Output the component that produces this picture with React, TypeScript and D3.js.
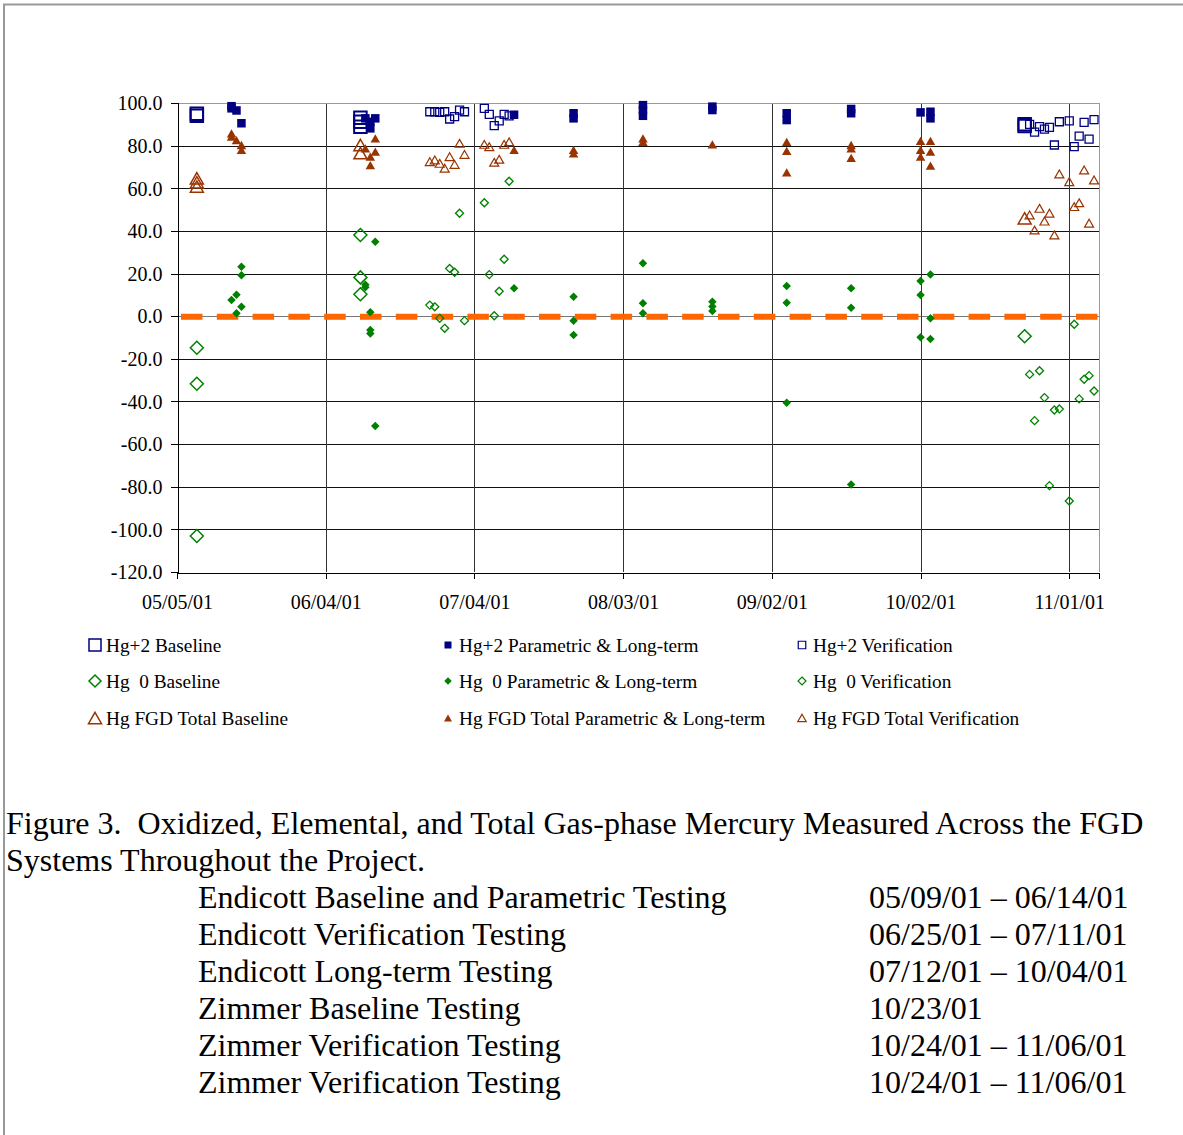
import React, { useEffect, useRef } from 'react';
import * as d3 from 'd3';

// [date, removal %] pairs
const hg2Baseline: [string, number][] = [
  ['2001-05-09', 95], ['2001-05-09', 94],
  ['2001-06-11', 93.1], ['2001-06-11', 91.2], ['2001-06-11', 88.9],
  ['2001-10-23', 90], ['2001-10-23', 89.2],
];
const hg2Parametric: [string, number][] = [
  ['2001-05-16', 98.5], ['2001-05-16', 97.5], ['2001-05-17', 96.5], ['2001-05-18', 90.5],
  ['2001-06-12', 92.8], ['2001-06-13', 91.2], ['2001-06-13', 88.1], ['2001-06-14', 92.8],
  ['2001-07-12', 94.5], ['2001-07-24', 95.2], ['2001-07-24', 92.8],
  ['2001-08-07', 99], ['2001-08-07', 96.7], ['2001-08-07', 94],
  ['2001-08-21', 98.3], ['2001-08-21', 96.7],
  ['2001-09-05', 95.2], ['2001-09-05', 92], ['2001-09-18', 97.2], ['2001-09-18', 95.2],
  ['2001-10-02', 95.6], ['2001-10-04', 95.9], ['2001-10-04', 92.8],
];
const hg2Verification: [string, number][] = [
  ['2001-06-25', 95.9], ['2001-06-26', 95.9], ['2001-06-27', 95.6], ['2001-06-28', 95.9],
  ['2001-06-29', 92.5], ['2001-06-30', 93.6], ['2001-07-01', 96.7], ['2001-07-02', 95.9],
  ['2001-07-06', 97.5], ['2001-07-07', 94.7], ['2001-07-08', 89.4], ['2001-07-09', 91.6],
  ['2001-07-10', 94.7], ['2001-07-11', 94],
  ['2001-10-24', 90], ['2001-10-25', 86.3], ['2001-10-26', 88.9], ['2001-10-27', 87.7],
  ['2001-10-28', 88.6], ['2001-10-29', 80.3], ['2001-10-30', 91.2], ['2001-11-01', 91.6],
  ['2001-11-02', 79.5], ['2001-11-03', 84.5], ['2001-11-04', 90.9], ['2001-11-05', 83.1],
  ['2001-11-06', 92.2],
];
const hg0Baseline: [string, number][] = [
  ['2001-05-09', -14.8], ['2001-05-09', -31.7], ['2001-05-09', -103.1],
  ['2001-06-11', 38.1], ['2001-06-11', 18.2], ['2001-06-11', 10.3],
  ['2001-10-23', -9.4],
];
const hg0Parametric: [string, number][] = [
  ['2001-05-16', 7.6], ['2001-05-17', 10], ['2001-05-17', 1.4],
  ['2001-05-18', 23.2], ['2001-05-18', 19.2], ['2001-05-18', 4.4],
  ['2001-06-12', 14.8], ['2001-06-12', 13.6], ['2001-06-13', 1.8], ['2001-06-13', -6.5],
  ['2001-06-13', -8.1], ['2001-06-14', 34.9], ['2001-06-14', -51.5],
  ['2001-07-12', 13.1], ['2001-07-24', 9.1], ['2001-07-24', -2.1], ['2001-07-24', -8.8],
  ['2001-08-07', 24.8], ['2001-08-07', 6.1], ['2001-08-07', 1.4],
  ['2001-08-21', 6.8], ['2001-08-21', 4.5], ['2001-08-21', 2.4],
  ['2001-09-05', 14.2], ['2001-09-05', 6.3], ['2001-09-05', -40.6],
  ['2001-09-18', 13.1], ['2001-09-18', 4], ['2001-09-18', -78.9],
  ['2001-10-02', 16.5], ['2001-10-02', 9.9], ['2001-10-02', -9.9],
  ['2001-10-04', 19.6], ['2001-10-04', -1], ['2001-10-04', -10.7],
];
const hg0Verification: [string, number][] = [
  ['2001-06-25', 5.2], ['2001-06-26', 4.4], ['2001-06-27', -1], ['2001-06-28', -5.7],
  ['2001-06-29', 22.4], ['2001-06-30', 20.6], ['2001-07-01', 48.3], ['2001-07-02', -2.1],
  ['2001-07-06', 53.2], ['2001-07-07', 19.5], ['2001-07-08', 0.2], ['2001-07-09', 11.7],
  ['2001-07-10', 26.7], ['2001-07-11', 63.3],
  ['2001-10-24', -27.3], ['2001-10-25', -49], ['2001-10-26', -25.6], ['2001-10-27', -38.2],
  ['2001-10-28', -79.5], ['2001-10-29', -44], ['2001-10-30', -43.5], ['2001-11-01', -86.7],
  ['2001-11-02', -3.8], ['2001-11-03', -38.8], ['2001-11-04', -29.6], ['2001-11-05', -27.9],
  ['2001-11-06', -35.1],
];
const fgdBaseline: [string, number][] = [
  ['2001-05-09', 64.7], ['2001-05-09', 62.8], ['2001-05-09', 60.8],
  ['2001-06-11', 80.3], ['2001-06-11', 76.5],
  ['2001-10-23', 45.9],
];
const fgdParametric: [string, number][] = [
  ['2001-05-16', 85.8], ['2001-05-16', 84.2], ['2001-05-17', 82.6], ['2001-05-18', 80.3],
  ['2001-05-18', 78], ['2001-06-12', 78.7], ['2001-06-13', 74.8], ['2001-06-13', 70.9],
  ['2001-06-14', 83.4], ['2001-06-14', 77.2],
  ['2001-07-12', 78], ['2001-07-24', 78], ['2001-07-24', 76.4],
  ['2001-08-07', 83.4], ['2001-08-07', 81.8], ['2001-08-21', 80.6],
  ['2001-09-05', 81.8], ['2001-09-05', 77.5], ['2001-09-05', 67.5],
  ['2001-09-18', 80.3], ['2001-09-18', 78.7], ['2001-09-18', 74.3],
  ['2001-10-02', 82.2], ['2001-10-02', 78], ['2001-10-02', 74.8],
  ['2001-10-04', 82.2], ['2001-10-04', 77.2], ['2001-10-04', 70.6],
];
const fgdVerification: [string, number][] = [
  ['2001-06-25', 72.5], ['2001-06-26', 73.3], ['2001-06-27', 71.7], ['2001-06-28', 69.4],
  ['2001-06-29', 74.8], ['2001-06-30', 71.2], ['2001-07-01', 81.1], ['2001-07-02', 75.9],
  ['2001-07-06', 80.6], ['2001-07-07', 79.5], ['2001-07-08', 72.2], ['2001-07-09', 73.6],
  ['2001-07-10', 80.6], ['2001-07-11', 81.8],
  ['2001-10-24', 47.5], ['2001-10-25', 40.4], ['2001-10-26', 50.6], ['2001-10-27', 44.6],
  ['2001-10-28', 48.3], ['2001-10-29', 38.1], ['2001-10-30', 66.7], ['2001-11-01', 63.1],
  ['2001-11-02', 51.4], ['2001-11-03', 53.2], ['2001-11-04', 68.6], ['2001-11-05', 43.6],
  ['2001-11-06', 63.9],
];

const xTickDates = ['2001-05-05', '2001-06-04', '2001-07-04', '2001-08-03', '2001-09-02', '2001-10-02', '2001-11-01'];
const yTicks = [100, 80, 60, 40, 20, 0, -20, -40, -60, -80, -100, -120];

const captionLines = [
  'Figure 3.  Oxidized, Elemental, and Total Gas-phase Mercury Measured Across the FGD',
  'Systems Throughout the Project.',
];
const testNames = [
  'Endicott Baseline and Parametric Testing',
  'Endicott Verification Testing',
  'Endicott Long-term Testing',
  'Zimmer Baseline Testing',
  'Zimmer Verification Testing',
  'Zimmer Verification Testing',
];
const testDates = [
  '05/09/01 – 06/14/01',
  '06/25/01 – 07/11/01',
  '07/12/01 – 10/04/01',
  '10/23/01',
  '10/24/01 – 11/06/01',
  '10/24/01 – 11/06/01',
];

const NAVY = '#000080';
const GREEN = '#008000';
const BROWN = '#993300';
const ORANGE = '#FF6600';
const FONT = '"Liberation Serif", "Times New Roman", serif';

// shape paths centred on 0,0
const markerPath = (shape: string, s: number) => {
  if (shape === 'square') return `M${-s / 2},${-s / 2}h${s}v${s}h${-s}Z`;
  if (shape === 'diamond') return `M0,${-s / 2}L${s / 2},0L0,${s / 2}L${-s / 2},0Z`;
  const h = s * 0.87;
  return `M0,${-h / 2}L${s / 2},${h / 2}L${-s / 2},${h / 2}Z`;
};

const series = [
  { label: 'Hg+2 Baseline', data: hg2Baseline, shape: 'square', color: NAVY, filled: false, size: 12.5, sw: 2, legSize: 12 },
  { label: 'Hg  0 Baseline', data: hg0Baseline, shape: 'diamond', color: GREEN, filled: false, size: 13, sw: 1.5, legSize: 12 },
  { label: 'Hg FGD Total Baseline', data: fgdBaseline, shape: 'triangle', color: BROWN, filled: false, size: 13, sw: 1.5, legSize: 13 },
  { label: 'Hg+2 Parametric & Long-term', data: hg2Parametric, shape: 'square', color: NAVY, filled: true, size: 8.5, sw: 0, legSize: 7 },
  { label: 'Hg  0 Parametric & Long-term', data: hg0Parametric, shape: 'diamond', color: GREEN, filled: true, size: 8.5, sw: 0, legSize: 7.5 },
  { label: 'Hg FGD Total Parametric & Long-term', data: fgdParametric, shape: 'triangle', color: BROWN, filled: true, size: 9.5, sw: 0, legSize: 8 },
  { label: 'Hg+2 Verification', data: hg2Verification, shape: 'square', color: NAVY, filled: false, size: 8, sw: 1.3, legSize: 7.5 },
  { label: 'Hg  0 Verification', data: hg0Verification, shape: 'diamond', color: GREEN, filled: false, size: 8, sw: 1.3, legSize: 8 },
  { label: 'Hg FGD Total Verification', data: fgdVerification, shape: 'triangle', color: BROWN, filled: false, size: 9, sw: 1.2, legSize: 8.5 },
];

const App = () => {
  const svgRef = useRef<SVGSVGElement>(null);

  useEffect(() => {
    const parse = d3.timeParse('%Y-%m-%d');
    const svg = d3.select(svgRef.current);
    svg.selectAll('*').remove();

    const left = 177, right = 1099, top = 103, bottom = 572;
    const x = d3.scaleTime()
      .domain([parse('2001-05-05') as Date, parse('2001-11-07') as Date])
      .range([left, right]);
    const y = d3.scaleLinear().domain([-120, 100]).range([bottom, top]);

    // outer frame (top and left edges only)
    svg.append('path')
      .attr('d', 'M4,1135V4.5H1183')
      .attr('fill', 'none')
      .attr('stroke', '#999')
      .attr('stroke-width', 2);

    // grid
    const grid = svg.append('g').attr('shape-rendering', 'crispEdges');
    yTicks.filter(v => v !== 100 && v !== -120).forEach(v => {
      grid.append('line')
        .attr('x1', left).attr('x2', right)
        .attr('y1', Math.round(y(v)) + 0.5).attr('y2', Math.round(y(v)) + 0.5)
        .attr('stroke', v === 0 ? '#777' : '#111');
    });
    xTickDates.slice(1).forEach(d => {
      const px = Math.round(x(parse(d) as Date)) + 0.5;
      grid.append('line')
        .attr('x1', px).attr('x2', px)
        .attr('y1', top).attr('y2', bottom)
        .attr('stroke', '#333');
    });
    // plot border top/right
    grid.append('path')
      .attr('d', `M${left},${top + 0.5}H${right + 0.5}V${bottom}`)
      .attr('fill', 'none')
      .attr('stroke', '#999');

    // zero reference dashes
    svg.append('line')
      .attr('x1', left + 4).attr('x2', right - 1)
      .attr('y1', y(0) + 0.5).attr('y2', y(0) + 0.5)
      .attr('stroke', ORANGE)
      .attr('stroke-width', 6)
      .attr('stroke-dasharray', '21.5,14.3');

    // axes
    const yAxis = d3.axisLeft(y).tickValues(yTicks).tickSize(7)
      .tickFormat(d => (d as number).toFixed(1));
    const yg = svg.append('g')
      .attr('transform', `translate(${left + 0.5},0)`)
      .call(yAxis);
    const xAxis = d3.axisBottom(x)
      .tickValues(xTickDates.map(d => parse(d) as Date))
      .tickSize(6)
      .tickFormat(d => d3.timeFormat('%m/%d/%y')(d as Date));
    const xg = svg.append('g')
      .attr('transform', `translate(0,${bottom + 0.5})`)
      .call(xAxis);
    [yg, xg].forEach(g => {
      g.select('.domain').attr('stroke', '#000').attr('shape-rendering', 'crispEdges');
      g.selectAll('.tick line').attr('stroke', '#000').attr('shape-rendering', 'crispEdges');
      g.selectAll('.tick text')
        .attr('font-family', FONT)
        .attr('font-size', 20)
        .attr('fill', '#000');
    });
    yg.selectAll('.tick text').attr('x', -15).attr('dy', '0.34em');
    xg.selectAll('.tick text').attr('y', 22).attr('dy', '0.71em');

    // y-axis title, slightly clipped at the top like the source
    svg.append('clipPath').attr('id', 'ylab-clip')
      .append('rect').attr('x', 40).attr('y', 181).attr('width', 60).attr('height', 300);
    svg.append('text')
      .attr('transform', 'translate(79,436) rotate(-90)')
      .attr('clip-path', 'url(#ylab-clip)')
      .attr('font-family', FONT)
      .attr('font-size', 19.5)
      .text('Mercury Removal Efficiency, %');

    // points
    series.forEach(s => {
      svg.append('g')
        .selectAll('path')
        .data(s.data)
        .enter()
        .append('path')
        .attr('transform', d => `translate(${x(parse(d[0]) as Date)},${y(d[1])})`)
        .attr('d', markerPath(s.shape, s.size))
        .attr('fill', s.filled ? s.color : 'none')
        .attr('stroke', s.filled ? 'none' : s.color)
        .attr('stroke-width', s.sw);
    });

    // legend, 3 columns x 3 rows
    const colX = [95, 448, 802];
    const rowY = [645, 681, 718];
    series.forEach((s, i) => {
      const cx = colX[Math.floor(i / 3)];
      const cy = rowY[i % 3];
      svg.append('path')
        .attr('transform', `translate(${cx},${cy})`)
        .attr('d', markerPath(s.shape, s.legSize))
        .attr('fill', s.filled ? s.color : 'none')
        .attr('stroke', s.filled ? 'none' : s.color)
        .attr('stroke-width', s.filled ? 0 : (s.sw > 1.4 ? 1.5 : 1.2));
      svg.append('text')
        .attr('x', cx + 11)
        .attr('y', cy + 6.5)
        .attr('font-family', FONT)
        .attr('font-size', 19.3)
        .style('white-space', 'pre')
        .text(s.label);
    });

    // caption
    captionLines.forEach((line, i) => {
      svg.append('text')
        .attr('x', 6)
        .attr('y', 834 + i * 37)
        .attr('font-family', FONT)
        .attr('font-size', 32)
        .style('white-space', 'pre')
        .text(line);
    });
    testNames.forEach((name, i) => {
      const by = 908 + i * 37;
      svg.append('text')
        .attr('x', 198).attr('y', by)
        .attr('font-family', FONT).attr('font-size', 32)
        .text(name);
      svg.append('text')
        .attr('x', 869).attr('y', by)
        .attr('font-family', FONT).attr('font-size', 32)
        .text(testDates[i]);
    });
  }, []);

  return (
    <div style={{ position: 'absolute', left: 0, top: 0, background: '#fff' }}>
      <svg ref={svgRef} width={1183} height={1135} style={{ display: 'block' }} />
    </div>
  );
};

export default App;
